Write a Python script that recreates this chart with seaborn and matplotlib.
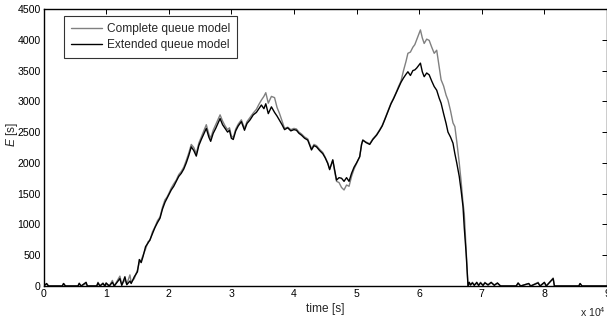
import numpy as np
import pandas as pd
import matplotlib
matplotlib.use("Agg")
import matplotlib.pyplot as plt
import seaborn as sns

# time in units of 1e4 s, E in s
time_e4 = [
    0.00, 0.05, 0.08, 0.30, 0.32, 0.35, 0.55, 0.57, 0.60, 0.68, 0.70, 0.85, 0.87, 0.90,
    0.95, 0.98, 1.00, 1.05, 1.10, 1.13, 1.22, 1.25, 1.30, 1.33, 1.38, 1.40,
    1.45, 1.50, 1.53, 1.56, 1.59, 1.63, 1.67, 1.70, 1.74, 1.78, 1.82, 1.86, 1.90, 1.94,
    1.97, 2.00, 2.04, 2.08, 2.12, 2.16, 2.20, 2.24, 2.28, 2.32, 2.36, 2.40, 2.44, 2.48,
    2.52, 2.56, 2.60, 2.64, 2.67, 2.71, 2.75, 2.79, 2.82, 2.86, 2.90, 2.94, 2.97, 3.00,
    3.03, 3.07, 3.11, 3.16, 3.21, 3.25, 3.30, 3.35, 3.40, 3.44, 3.48, 3.52, 3.55, 3.59,
    3.64, 3.69, 3.73, 3.77, 3.81, 3.85, 3.90, 3.95, 4.00, 4.04, 4.08, 4.12, 4.17, 4.22,
    4.25, 4.28, 4.32, 4.36, 4.41, 4.46, 4.50, 4.54, 4.57, 4.62, 4.65, 4.68, 4.72, 4.76,
    4.80, 4.84, 4.88, 4.92, 4.96, 5.00, 5.05, 5.08, 5.10, 5.15, 5.21, 5.26, 5.32, 5.37,
    5.41, 5.45, 5.50, 5.55, 5.59, 5.63, 5.67, 5.71, 5.75, 5.79, 5.82, 5.86, 5.90, 5.93,
    5.96, 5.99, 6.02, 6.05, 6.08, 6.12, 6.16, 6.20, 6.24, 6.28, 6.32, 6.35, 6.39, 6.43,
    6.46, 6.50, 6.54, 6.57, 6.60, 6.64, 6.67, 6.70, 6.72, 6.75, 6.78,
    6.80, 6.82, 6.85, 6.88, 6.92, 6.95, 6.98, 7.02, 7.05, 7.10, 7.15, 7.20, 7.25, 7.30,
    7.55, 7.58, 7.62, 7.75, 7.78, 7.90, 7.93, 8.00, 8.03, 8.14, 8.16, 8.55, 8.57, 8.60, 9.00,
]

extended = [
    0, 40, 0, 0, 40, 0, 0, 45, 0, 60, 0, 0, 50, 0,
    40, 0, 50, 0, 60, 0, 120, 10, 150, 20, 80, 40,
    150, 230, 430, 380, 480, 640, 700, 750, 850, 950, 1030, 1100, 1250, 1360,
    1420, 1480, 1560, 1620, 1700, 1780, 1830, 1900, 2000, 2120, 2260, 2200, 2110, 2280,
    2380, 2470, 2560, 2420, 2350, 2480, 2560, 2650, 2720, 2620, 2560, 2500, 2530, 2400,
    2380, 2520, 2600, 2670, 2530, 2640, 2700, 2780, 2820, 2880, 2940, 2880, 2960, 2800,
    2910, 2820, 2760, 2690, 2620, 2540, 2570, 2520, 2540, 2530, 2480, 2450, 2400, 2370,
    2290, 2210, 2280, 2260, 2200, 2150, 2080, 1990, 1890, 2050, 1880, 1720, 1760, 1750,
    1700, 1760, 1700, 1830, 1930, 2000, 2100, 2300, 2370, 2330, 2300, 2380, 2450, 2530,
    2600, 2700, 2830, 2960, 3040, 3130, 3220, 3310, 3380, 3440, 3480, 3420, 3500, 3510,
    3540, 3580, 3620, 3480, 3400, 3460, 3430, 3330, 3240, 3180, 3050, 2970, 2800, 2640,
    2500, 2420, 2320, 2150, 2000, 1780, 1550, 1290, 950, 530, 0,
    60, 20, 50, 10, 60, 10, 50, 10, 50, 20, 60, 10, 50, 0,
    0, 50, 0, 40, 0, 50, 0, 60, 0, 120, 0, 0, 40, 0, 0,
]

complete = [
    0, 30, 0, 0, 40, 0, 0, 30, 0, 40, 0, 0, 60, 0,
    50, 0, 30, 0, 90, 0, 160, 20, 100, 30, 180, 60,
    120, 260, 380, 420, 500, 600, 720, 740, 880, 960, 1060, 1120, 1280, 1400,
    1440, 1500, 1590, 1660, 1720, 1810, 1860, 1930, 2040, 2160, 2300, 2250, 2150, 2320,
    2420, 2520, 2620, 2470, 2400, 2530, 2620, 2710, 2780, 2680, 2600, 2540, 2570, 2440,
    2410, 2550, 2630, 2700, 2560, 2670, 2740, 2810, 2870, 2950, 3020, 3080, 3140, 2970,
    3080, 3060, 2900, 2800, 2680, 2560, 2580, 2540, 2560, 2550, 2500, 2470, 2420, 2390,
    2310, 2230, 2300, 2280, 2220, 2170, 2090, 2000, 1900, 2040, 1860, 1700, 1680, 1600,
    1560, 1640, 1620, 1780, 1900, 1990, 2100, 2300, 2370, 2340, 2310, 2390, 2460, 2540,
    2610, 2710, 2840, 2970, 3050, 3140, 3240, 3330, 3500, 3650, 3780, 3800, 3880, 3920,
    4000, 4080, 4160, 4030, 3940, 4010, 3990, 3880, 3780, 3830, 3560, 3350, 3250, 3100,
    3020, 2850, 2650, 2590, 2350, 2000, 1700, 1350, 1180, 600, 0,
    40, 10, 60, 20, 40, 10, 60, 10, 60, 10, 50, 20, 40, 0,
    0, 40, 0, 40, 0, 60, 0, 50, 0, 130, 0, 0, 40, 0, 0,
]

models = ["Complete queue model", "Extended queue model"]
colors = ["#808080", "#000000"]

df = pd.concat([
    pd.DataFrame({"t": time_e4, "E": complete, "model": models[0]}),
    pd.DataFrame({"t": time_e4, "E": extended, "model": models[1]}),
], ignore_index=True)

sns.set_theme(style="white")
plt.rcParams["font.family"] = ["Liberation Sans", "DejaVu Sans"]
plt.rcParams["mathtext.fontset"] = "custom"
plt.rcParams["mathtext.it"] = "Liberation Sans:italic"
plt.rcParams["mathtext.rm"] = "Liberation Sans"

fs = 7.6      # tick labels
fs_lab = 8.6  # axis labels
fs_leg = 8.6  # legend
fig = plt.figure(figsize=(6.07, 3.23), dpi=100)
ax = fig.add_axes([0.0717, 0.1146, 0.9283, 0.8576])

sns.lineplot(data=df, x="t", y="E", hue="model", hue_order=models,
             palette=dict(zip(models, colors)), estimator=None, sort=False,
             linewidth=1.0, ax=ax)

ax.set_xlim(0, 9)
ax.set_ylim(0, 4500)
ax.set_xticks(range(0, 10))
ax.set_yticks(range(0, 4501, 500))
ax.tick_params(direction="in", top=True, right=True, length=3.6, width=0.7,
               labelsize=fs, colors="black", pad=2)
for s in ax.spines.values():
    s.set_color("black"); s.set_linewidth(1.0)

ax.set_xlabel("time [s]", fontsize=fs_lab, labelpad=3)
ax.set_ylabel("$E$ [s]", fontsize=fs_lab)
ax.yaxis.set_label_coords(-0.041, 0.545)
fig.text(0.998, 0.012, "x 10$^4$", fontsize=fs, ha="right", va="bottom")

leg = ax.legend(loc="upper left", bbox_to_anchor=(0.0364, 0.975), borderaxespad=0,
                fontsize=fs_leg, frameon=True, fancybox=False, edgecolor="black",
                handlelength=2.6, borderpad=0.6, labelspacing=0.35,
                handletextpad=0.4)
leg.get_frame().set_linewidth(0.8)
leg.set_title(None)

fig.savefig("out.png", dpi=100)
